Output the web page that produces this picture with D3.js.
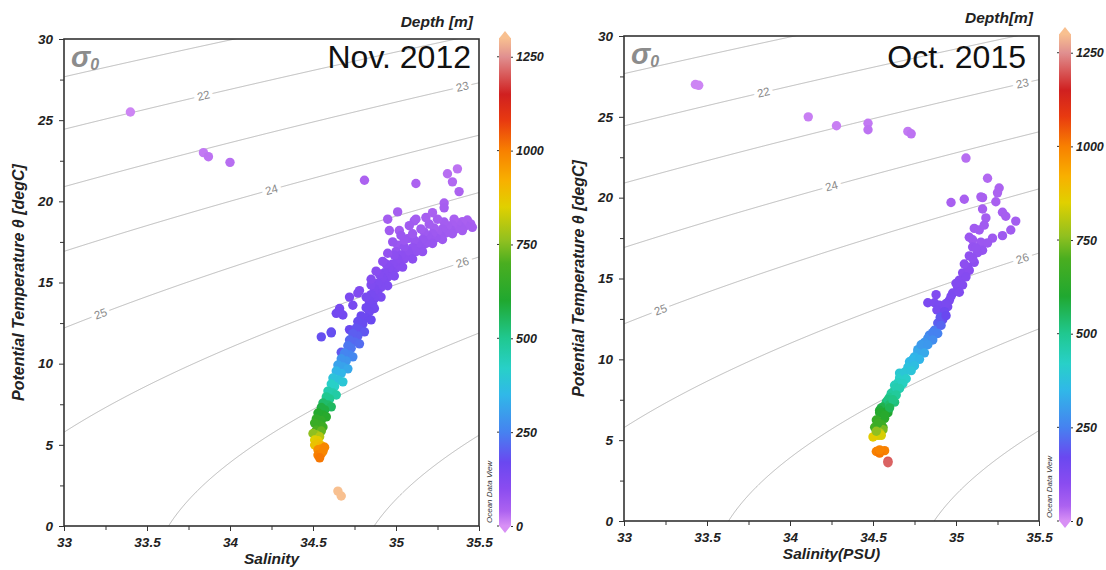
<!DOCTYPE html>
<html><head><meta charset="utf-8">
<script src="https://cdn.jsdelivr.net/npm/d3@7"></script>
<style>
body{margin:0;background:#fff}
svg{display:block}
text{font-family:"Liberation Sans",Arial,Helvetica,sans-serif}
</style>
</head><body>
<svg id="chart" width="1106" height="570"></svg>
<script>
// ---------- data ----------
const salinityTicks = [33, 33.5, 34, 34.5, 35, 35.5];
const salinityMinor = [33.25, 33.75, 34.25, 34.75, 35.25];
const tempTicks = [0, 5, 10, 15, 20, 25, 30];
const tempMinor = [2.5, 7.5, 12.5, 17.5, 22.5, 27.5];
const depthTicks = [0, 250, 500, 750, 1000, 1250];
const sigmaLevels = [21, 22, 23, 24, 25, 26, 27, 28];
const sigmaLabelLevels = [22, 23, 24, 25, 26];
const sigmaLabelSal = [33.84, 35.40, 34.25, 33.22, 35.40];
const colorDepths = [0, 40, 100, 170, 250, 350, 420, 500, 600, 700, 760, 850, 920, 1000, 1080, 1150, 1250, 1300];
const colorHexes = ["#d890f5","#ac62f0","#8a4cf0","#6a48f0","#4682f0","#30b8e8","#28d0c8","#20c890","#20a830","#4aae20","#90c020","#e0d000","#f8b000","#f88000","#e83a10","#d02020","#e09090","#f8c090"];

const sal2012 = [
 33.40,33.84,33.87,34.00,34.81,35.12,35.31,35.37,35.34,35.38,35.29,35.29,
 35.01,34.95,35.11,34.96,35.02,35.07,35.01,35.00,34.90,34.78,34.72,34.74,
 34.66,34.64,34.68,34.84,34.77,34.66,34.72,34.61,34.55,34.61,34.67,34.72,
 35.45,35.43,35.46,35.42,35.40,
 35.39,35.37,35.35,35.40,35.36,35.34,
 35.33,35.31,35.29,35.34,35.30,35.28,
 35.27,35.25,35.23,35.28,35.24,35.22,
 35.21,35.19,35.17,35.22,35.18,35.16,
 35.15,35.13,35.11,35.16,35.12,35.10,
 35.08,35.07,35.05,35.10,35.05,35.03,
 35.02,35.01,34.99,35.04,35.00,34.98,
 34.98,34.96,34.94,34.99,34.95,34.93,
 34.93,34.92,34.90,34.95,34.91,34.89,
 34.89,34.87,34.85,34.91,34.87,34.85,
 34.86,34.84,34.82,34.87,34.84,34.82,
 34.82,34.79,34.85,34.80,34.77,
 34.78,34.76,34.81,34.77,34.74,
 34.75,34.72,34.78,34.73,34.71,
 34.72,34.69,34.74,34.70,34.67,
 34.68,34.65,34.71,34.67,34.64,
 34.65,34.62,34.68,34.63,34.61,
 34.62,34.59,34.64,34.60,34.58,
 34.59,34.56,34.61,34.57,34.55,
 34.56,34.53,34.58,34.55,34.52,
 34.54,34.51,34.56,34.52,34.55,
 34.52,34.50,34.54,34.51,34.53,
 34.51,34.53,34.55,34.53,34.55,34.57,
 34.53,34.55,34.56,34.54,34.65,34.67,
 35.20,35.25,35.15,35.10,35.05,35.18,35.22,35.12,
 35.08,35.03,34.98,34.95,34.92,34.88,34.85
];
const temp2012 = [
 25.5,23.0,22.75,22.4,21.3,21.1,21.7,22.0,21.2,20.6,19.9,19.6,
 19.35,18.9,18.8,18.2,18.2,17.7,17.3,16.9,15.0,14.5,14.1,13.6,
 13.4,13.1,13.0,13.8,14.35,13.2,12.1,11.95,11.65,11.9,10.7,11.15,
 18.61,18.85,18.4,18.5,18.75,
 18.42,18.67,18.9,18.2,18.3,18.55,
 18.24,18.49,18.73,18.0,18.05,18.3,
 17.87,18.12,18.36,17.65,17.75,18.0,
 17.62,17.87,18.11,17.4,17.4,17.65,
 17.13,17.38,17.62,16.9,16.9,17.15,
 16.70,16.95,17.19,16.45,16.45,16.7,
 16.20,16.45,16.69,15.95,15.9,16.15,
 15.65,15.9,16.14,15.4,15.35,15.6,
 15.03,15.28,15.52,14.8,14.7,14.95,
 14.36,14.61,14.85,14.1,14.0,14.25,
 13.62,13.87,14.1,13.4,13.2,13.45,
 12.82,12.94,12.7,12.45,12.6,
 12.08,12.2,11.96,11.7,11.85,
 11.34,11.46,11.22,10.95,11.1,
 10.54,10.66,10.42,10.17,10.3,
 9.80,9.92,9.68,9.4,9.55,
 9.00,9.12,8.88,8.6,8.75,
 8.19,8.31,8.07,7.83,7.95,
 7.46,7.58,7.34,7.15,7.3,
 6.84,6.96,6.72,6.5,6.6,
 6.22,6.34,6.1,5.9,5.85,
 5.61,5.7,5.5,5.3,5.25,
 4.99,5.05,4.95,4.7,4.75,4.85,
 4.37,4.45,4.6,4.2,2.15,1.85,
 18.6,18.9,18.3,18.0,17.6,19.0,19.3,18.9,
 18.5,17.9,17.5,16.8,16.3,15.7,15.2
];
const depth2012 = [
 10,20,25,30,40,40,30,25,35,40,45,50,
 50,55,60,60,55,70,70,80,110,120,130,140,
 140,150,150,130,120,145,170,175,180,180,190,185,
 45,45,50,50,45,
 55,50,45,55,55,50,
 60,55,55,60,60,60,
 65,60,55,65,70,65,
 70,70,65,75,75,75,
 80,80,75,85,85,85,
 90,90,85,95,95,95,
 100,100,95,105,105,105,
 110,110,105,115,115,115,
 120,120,115,125,125,125,
 130,130,125,135,140,140,
 145,145,140,150,155,155,
 165,165,170,175,175,
 185,185,190,200,200,
 215,215,220,235,235,
 255,255,260,285,285,
 310,310,320,345,345,
 380,380,390,420,420,
 460,460,470,500,500,
 540,540,550,580,580,
 610,610,620,640,640,
 660,660,670,700,720,
 780,760,800,850,860,
 880,880,900,980,980,990,
 1000,1000,990,1010,1300,1300,
 55,50,60,65,70,50,45,55,
 60,70,75,85,95,105,115
];

const sal2015 = [
 33.43,33.45,34.11,34.28,34.47,34.47,
 34.71,34.73,35.06,35.19,35.26,35.25,
 35.24,34.97,35.05,35.15,35.16,35.16,
 35.18,35.28,35.30,35.36,35.33,35.28,
 35.11,35.14,35.10,35.15,35.22,35.19,
 35.16,35.08,35.10,35.13,35.11,35.17,
 35.10,35.07,35.04,35.02,35.01,34.98,
 34.96,34.95,34.92,35.08,35.06,35.04,
 35.02,34.88,34.83,34.87,34.90,34.885,
 35.00,34.97,34.94,35.05,35.08,35.12,
 34.93,34.92,34.89,34.87,34.84,34.83,
 34.81,34.80,34.77,34.77,34.75,34.72,
 34.72,34.71,34.68,34.66,34.66,34.65,
 34.63,34.63,34.61,34.60,34.63,34.58,
 34.56,34.55,34.54,34.58,34.59,34.54,
 34.57,34.52,34.51,34.56,34.55,34.56,
 34.54,34.53,34.50,34.55,
 34.905,34.86,34.79,34.74,34.69,34.64,34.59,34.60,
 34.94,34.91,34.89,34.86,34.83,34.81,34.78,34.75,34.73,
 34.70,34.68,34.66,34.64,34.62,34.60,34.57,34.53,34.52,
 34.52,34.57,34.54,34.54,34.59,34.59
];
const temp2015 = [
 27.0,26.95,25.0,24.45,24.6,24.2,
 24.1,23.95,22.45,21.2,20.6,20.3,
 19.75,19.7,19.9,20.05,20.0,19.3,
 18.75,19.1,18.85,18.55,18.0,17.65,
 18.1,18.0,17.4,17.25,17.5,17.2,
 16.75,17.55,16.95,16.6,16.0,18.3,
 16.25,15.7,15.35,14.9,14.45,14.1,
 13.65,13.25,12.85,15.5,15.1,14.6,
 14.15,14.0,13.5,13.5,13.35,13.05,
 14.7,13.9,13.45,15.9,16.4,16.9,
 12.95,12.45,12.25,11.8,11.5,11.3,
 11.05,10.75,10.6,10.45,10.15,9.85,
 9.65,9.5,8.9,9.15,8.85,8.55,
 8.4,8.1,7.9,7.65,7.35,7.35,
 7.05,7.0,6.85,6.75,6.7,6.7,
 6.35,6.25,5.8,5.8,5.95,5.65,
 5.45,5.3,5.2,5.3,
 12.6,11.65,10.9,10.0,9.2,8.25,7.5,7.2,
 12.7,12.1,11.6,11.2,10.9,10.4,10.0,9.6,9.3,
 8.8,8.5,8.2,7.8,7.5,7.0,6.55,6.05,5.55,
 4.3,4.35,4.2,4.4,3.7,3.6
];
const depth2015 = [
 10,10,15,15,20,25,
 20,25,30,35,40,40,
 45,45,45,45,45,50,
 55,50,50,55,60,65,
 60,60,70,70,65,70,
 80,70,80,85,95,60,
 90,100,105,110,120,125,
 130,140,150,100,110,115,
 120,120,130,130,135,140,
 115,128,135,95,90,82,
 160,180,200,240,260,270,
 285,300,310,320,340,355,
 365,375,410,395,415,430,
 440,465,480,500,520,530,
 560,570,590,600,600,610,
 630,650,680,690,670,740,
 800,840,860,840,
 190,250,295,350,390,455,515,540,
 170,210,250,270,290,320,345,365,385,
 415,430,455,485,510,560,620,665,760,
 1000,1000,1010,995,1200,1210
];

// ---------- layout ----------
const panels = [
  {sal: sal2012, temp: temp2012, depth: depth2012, title: "Nov. 2012", xTitle: "Salinity", depthTitle: "Depth [m]",
   L: 64, R: 479, T: 39, B: 526, titleX: 471, titleY: 68, cbX: 499, cbTop: 38, dtX: 473, dtY: 27},
  {sal: sal2015, temp: temp2015, depth: depth2015, title: "Oct. 2015", xTitle: "Salinity(PSU)", depthTitle: "Depth[m]",
   L: 624, R: 1039, T: 36, B: 521, titleX: 1026, titleY: 68, cbX: 1059, cbTop: 34, dtX: 1033, dtY: 23}
];

const svg = d3.select("#chart");
const defs = svg.append("defs");
const color = d3.scaleLinear().domain(colorDepths).range(colorHexes).interpolate(d3.interpolateRgb).clamp(true);

// UNESCO EOS-80 one-atmosphere density anomaly
function sigma0(S, T) {
  const rw = 999.842594 + 6.793952e-2*T - 9.095290e-3*T*T + 1.001685e-4*T**3 - 1.120083e-6*T**4 + 6.536332e-9*T**5;
  const A = 8.24493e-1 - 4.0899e-3*T + 7.6438e-5*T*T - 8.2467e-7*T**3 + 5.3875e-9*T**4;
  const Bc = -5.72466e-3 + 1.0227e-4*T - 1.6546e-6*T*T;
  const C = 4.8314e-4;
  return rw + A*S + Bc*Math.pow(S, 1.5) + C*S*S - 1000;
}
function solveT(S, level) {
  let lo = -3, hi = 40;
  if (sigma0(S, lo) < level || sigma0(S, hi) > level) return null;
  for (let i = 0; i < 50; i++) {
    const m = (lo + hi) / 2;
    if (sigma0(S, m) > level) lo = m; else hi = m;
  }
  return (lo + hi) / 2;
}

// colorbar gradient
const grad = defs.append("linearGradient").attr("id", "depthGrad")
  .attr("x1", 0).attr("y1", 1).attr("x2", 0).attr("y2", 0);
colorDepths.forEach((d, i) => grad.append("stop").attr("offset", d / 1300).attr("stop-color", colorHexes[i]));

panels.forEach((p, pi) => {
  const x = d3.scaleLinear().domain([33, 35.5]).range([p.L, p.R]);
  const y = d3.scaleLinear().domain([0, 30]).range([p.B, p.T]);
  const g = svg.append("g");

  defs.append("clipPath").attr("id", "clip" + pi)
    .append("rect").attr("x", p.L).attr("y", p.T).attr("width", p.R - p.L).attr("height", p.B - p.T);

  // isopycnals
  const cg = g.append("g").attr("clip-path", `url(#clip${pi})`);
  const sGrid = d3.range(32.9, 35.6, 0.004);
  const line = d3.line().defined(d => d[1] !== null).x(d => x(d[0])).y(d => y(d[1]));
  sigmaLevels.forEach(lev => {
    const pts = sGrid.map(s => [s, solveT(s, lev)]);
    cg.append("path").attr("d", line(pts)).attr("fill", "none")
      .attr("stroke", "#a8a8a8").attr("stroke-width", 0.8);
  });
  sigmaLabelLevels.forEach((lev, i) => {
    const s0 = sigmaLabelSal[i];
    const t0 = solveT(s0, lev), t1 = solveT(s0 + 0.03, lev);
    const ang = Math.atan2(y(t1) - y(t0), x(s0 + 0.03) - x(s0)) * 180 / Math.PI;
    cg.append("text").attr("transform", `translate(${x(s0)},${y(t0)}) rotate(${ang})`)
      .attr("text-anchor", "middle").attr("dy", "0.35em")
      .attr("font-size", "11.5px").attr("fill", "#8a8a8a")
      .attr("stroke", "#fff").attr("stroke-width", 7).attr("paint-order", "stroke")
      .text(lev);
  });

  // sigma label
  const sl = g.append("text").attr("x", p.L + 7).attr("y", p.T + 28)
    .attr("font-size", "29px").attr("font-weight", "bold").attr("font-style", "italic").attr("fill", "#8c8c8c");
  sl.append("tspan").text("σ");
  sl.append("tspan").attr("font-size", "16px").attr("dy", 3).text("0");

  // points
  const data = p.sal.map((s, i) => ({s, t: p.temp[i], d: p.depth[i]}));
  g.append("g").selectAll("circle").data(data).join("circle")
    .attr("cx", d => x(d.s)).attr("cy", d => y(d.t)).attr("r", 4.7)
    .attr("fill", d => color(d.d));

  // title
  g.append("text").attr("x", p.titleX).attr("y", p.titleY).attr("text-anchor", "end")
    .attr("font-size", "32px").attr("fill", "#111").text(p.title);

  // frame
  g.append("rect").attr("x", p.L).attr("y", p.T).attr("width", p.R - p.L).attr("height", p.B - p.T)
    .attr("fill", "none").attr("stroke", "#333").attr("stroke-width", 1.6);

  // axes
  const styleAxis = sel => {
    sel.select(".domain").remove();
    sel.selectAll("line").attr("stroke", "#333").attr("stroke-width", 1);
    sel.selectAll("text").attr("font-size", "13.5px").attr("font-weight", "bold")
      .attr("font-style", "italic").attr("fill", "#222")
      .style("font-family", '"Liberation Sans",Arial,sans-serif');
  };
  g.append("g").attr("transform", `translate(0,${p.B})`)
    .call(d3.axisBottom(x).tickValues(salinityTicks).tickFormat(d3.format("")).tickSize(5).tickPadding(6)).call(styleAxis);
  g.append("g").attr("transform", `translate(0,${p.B})`)
    .call(d3.axisBottom(x).tickValues(salinityMinor).tickFormat("").tickSize(4)).call(styleAxis);
  g.append("g").attr("transform", `translate(${p.L},0)`)
    .call(d3.axisLeft(y).tickValues(tempTicks).tickSize(5).tickPadding(6)).call(styleAxis);
  g.append("g").attr("transform", `translate(${p.L},0)`)
    .call(d3.axisLeft(y).tickValues(tempMinor).tickFormat("").tickSize(4)).call(styleAxis);

  // axis titles
  g.append("text").attr("x", (p.L + p.R) / 2).attr("y", p.B + 38).attr("text-anchor", "middle")
    .attr("font-size", "15.5px").attr("font-weight", "bold").attr("font-style", "italic").attr("fill", "#222")
    .text(p.xTitle);
  g.append("text").attr("transform", `translate(${p.L - 40},${(p.T + p.B) / 2}) rotate(-90)`)
    .attr("text-anchor", "middle")
    .attr("font-size", "16px").attr("font-weight", "bold").attr("font-style", "italic").attr("fill", "#222")
    .text("Potential Temperature θ [degC]");

  // Ocean Data View
  g.append("text").attr("transform", `translate(${p.R + 12.5},${p.B - 3}) rotate(-90)`)
    .attr("font-size", "8px").attr("font-style", "italic").attr("fill", "#333").text("Ocean Data View");

  // colorbar
  const cy = d3.scaleLinear().domain([0, 1300]).range([p.B, p.cbTop]);
  const cw = 12;
  g.append("rect").attr("x", p.cbX).attr("y", cy(1300)).attr("width", cw).attr("height", cy(0) - cy(1300))
    .attr("fill", "url(#depthGrad)");
  g.append("path").attr("d", `M${p.cbX},${cy(1300)+0.5}L${p.cbX + cw},${cy(1300)+0.5}L${p.cbX + cw/2},${cy(1300) - 7}Z`)
    .attr("fill", colorHexes[colorHexes.length - 1]);
  g.append("path").attr("d", `M${p.cbX},${cy(0)-0.5}L${p.cbX + cw},${cy(0)-0.5}L${p.cbX + cw/2},${cy(0) + 7}Z`)
    .attr("fill", colorHexes[0]);
  const cax = g.append("g").attr("transform", `translate(${p.cbX + cw},0)`)
    .call(d3.axisRight(cy).tickValues(depthTicks).tickFormat(d3.format("d")).tickSize(2).tickPadding(3));
  cax.select(".domain").remove();
  cax.selectAll("line").attr("stroke", "#333");
  cax.selectAll("text").attr("font-size", "12.5px").attr("font-weight", "bold").attr("font-style", "italic")
    .attr("fill", "#222").style("font-family", '"Liberation Sans",Arial,sans-serif');
  g.append("g").selectAll("line").data(depthTicks).join("line")
    .attr("x1", p.cbX - 2).attr("x2", p.cbX).attr("y1", d => cy(d)).attr("y2", d => cy(d)).attr("stroke", "#333");

  g.append("text").attr("x", p.dtX).attr("y", p.dtY).attr("text-anchor", "end")
    .attr("font-size", "15.5px").attr("font-weight", "bold").attr("font-style", "italic").attr("fill", "#222")
    .text(p.depthTitle);
});
</script>
</body></html>
